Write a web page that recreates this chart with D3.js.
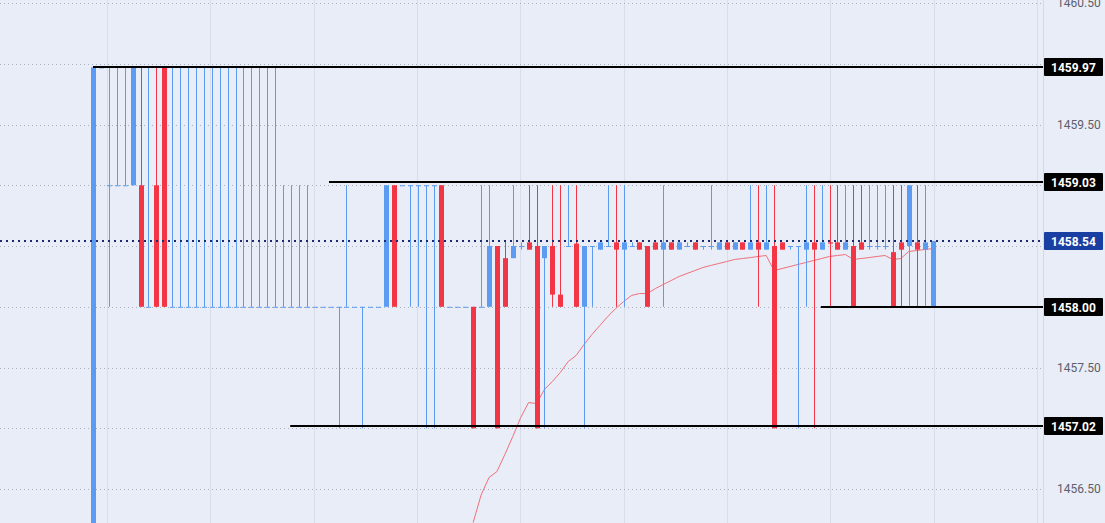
<!DOCTYPE html>
<html><head><meta charset="utf-8">
<script src="https://cdn.jsdelivr.net/npm/d3@7"></script>
<style>html,body{margin:0;padding:0;background:#e9edf8;overflow:hidden}svg{display:block}</style>
</head><body><svg id="c" width="1105" height="523"></svg>
<script>
const T=1459.97,A=1459.0,M=1458.5,B=1458.0,L=1457.0,Z=1456.0,U=1458.53,D=1458.47;
const BSQ=[D,U,D,U],RSQ=[U,U,D,D];
// candles [open, high, low, close]
const candles=[
[Z,T,Z,T],[T,T,T,T],[A,T,B,A],[A,T,A,A],[A,T,A,A],[A,T,A,T],[A,T,B,B],[B,T,B,B],[A,T,B,B],[T,T,B,B],
[B,T,B,B],[B,T,B,B],[B,T,B,B],[B,T,B,B],[B,T,B,B],[B,T,B,B],[B,T,B,B],[B,T,B,B],[B,T,B,B],[B,T,B,B],
[B,T,B,B],[B,T,B,B],[B,T,B,B],[B,T,B,B],[B,A,B,B],[B,A,B,B],[B,A,B,B],[B,A,B,B],[B,B,B,B],[B,B,B,B],
[B,B,B,B],[B,B,L,B],[B,A,B,B],[B,B,B,B],[B,B,L,B],[B,B,B,B],[B,B,B,B],[B,A,B,A],[A,A,B,B],[A,A,A,A],
[A,A,B,A],[A,A,B,A],[A,A,L,A],[A,A,L,A],[A,A,B,B],[B,B,B,B],[B,B,B,B],[B,B,B,B],[B,B,L,L],[B,A,B,B],
[B,A,B,M],[M,M,L,L],[1458.4,1458.54,B,B],[1458.4,A,1458.4,M],[M,U,D,M],[U,A,D,D],[M,A,L,L],[1458.4,M,L,M],[M,A,B,1458.1],[1458.1,A,B,B],
[M,A,M,M],[1458.52,A,B,B],[B,M,L,M],[M,M,B,M],BSQ,[M,A,M,M],[U,A,B,D],[D,A,B,U],[M,U,M,M],RSQ,
[M,M,B,B],RSQ,[D,A,B,U],RSQ,BSQ,[M,U,M,M],RSQ,[M,M,D,M],[M,A,D,M],BSQ,
RSQ,BSQ,RSQ,[D,A,D,U],[U,A,B,D],[D,A,D,U],[M,A,L,L],RSQ,[M,M,D,M],[M,M,L,M],
[D,A,B,U],[U,A,L,D],[D,A,D,U],[U,A,B,1458.52],[U,A,D,D],[D,A,D,U],[M,A,B,B],[U,A,D,D],[M,A,D,M],[M,A,D,M],
[M,A,D,M],[1458.45,A,B,B],[U,A,B,D],[M,A,B,A],[U,A,B,D],[D,A,B,U],[B,1458.54,B,1458.54]
];
const maStart=48;
const maValues=[1456.224,1456.45,1456.595,1456.644,1456.784,1456.932,1457.088,1457.212,1457.204,1457.319,1457.385,1457.459,1457.549,1457.599,1457.689,1457.772,1457.846,1457.920,1457.986,1458.043,1458.093,1458.109,1458.109,1458.150,1458.183,1458.216,1458.249,1458.274,1458.298,1458.323,1458.340,1458.356,1458.372,1458.389,1458.397,1458.405,1458.414,1458.422,1458.298,1458.315,1458.331,1458.348,1458.364,1458.381,1458.397,1458.414,1458.422,1458.430,1458.389,1458.397,1458.405,1458.414,1458.422,1458.389,1458.397,1458.455,1458.463,1458.471,1458.479];
const levels=[1459.97,1459.03,1458.00,1457.02];
const levelStart=[0,29.8,91.9,24.9];
const lastPrice=1458.54;
const tickValues=[1456.5,1457.0,1457.5,1458.0,1458.5,1459.0,1459.5,1460.0,1460.5];
const gridStart=1.77, gridStep=13.05;

const svg=d3.select("#c");
const W=1105,H=523,plotR=1043;
const y=d3.scaleLinear().domain([1456.2288,1460.5]).range([522,3]);
const x=d3.scaleLinear().domain([0,106]).range([93,932.5]);
const blue="#5b9cf2",red="#f23645";
const marks=levels.concat([lastPrice]);

const vg=d3.range(gridStart,120,gridStep).filter(v=>x(v)<plotR);
svg.append("g").selectAll("line").data(vg).join("line")
 .attr("x1",d=>Math.round(x(d))+0.5).attr("x2",d=>Math.round(x(d))+0.5).attr("y1",0).attr("y2",H)
 .attr("stroke","#d8dde9").attr("stroke-width",1);
svg.append("g").selectAll("line").data(tickValues).join("line")
 .attr("x1",0).attr("x2",plotR).attr("y1",d=>Math.round(y(d))+0.5).attr("y2",d=>Math.round(y(d))+0.5)
 .attr("stroke","#a9b0c0").attr("stroke-width",1).attr("stroke-dasharray","1,3");
svg.append("line").attr("x1",plotR+0.5).attr("x2",plotR+0.5).attr("y1",0).attr("y2",H).attr("stroke","#d3d8e3");

const ma=maValues.map((v,i)=>[maStart+i,v]);
svg.append("path").datum(ma).attr("fill","none").attr("stroke","#f0707a").attr("stroke-width",1)
 .attr("d",d3.line().x(d=>x(d[0])).y(d=>y(d[1])));

const cg=svg.append("g").selectAll("g").data(candles).join("g");
const col=d=>d[3]>=d[0]?blue:red;
cg.append("line").attr("x1",(d,i)=>Math.round(x(i))+0.5).attr("x2",(d,i)=>Math.round(x(i))+0.5)
 .attr("y1",d=>y(d[1])).attr("y2",d=>y(d[2])).attr("stroke",col).attr("stroke-width",1);
cg.append("rect").attr("x",(d,i)=>Math.round(x(i))-2).attr("width",5)
 .attr("y",d=>y(Math.max(d[0],d[3]))).attr("height",d=>Math.max(1,Math.abs(y(d[0])-y(d[3]))))
 .attr("fill",col);

svg.append("g").selectAll("line").data(levels).join("line")
 .attr("x1",(d,i)=>x(levelStart[i])).attr("x2",plotR).attr("y1",d=>Math.round(y(d))).attr("y2",d=>Math.round(y(d)))
 .attr("stroke","#000").attr("stroke-width",2);
svg.append("line").attr("x1",0).attr("x2",plotR).attr("y1",Math.round(y(lastPrice))).attr("y2",Math.round(y(lastPrice)))
 .attr("stroke","#1a2a6c").attr("stroke-width",2).attr("stroke-dasharray","2,4");

const visTicks=tickValues.filter(t=>marks.every(m=>Math.abs(y(t)-y(m))>16));
svg.append("g").selectAll("text").data(visTicks).join("text")
 .attr("x",1057).attr("y",d=>y(d)+4).attr("font-family","Roboto, 'Liberation Sans', sans-serif").attr("font-size",12)
 .attr("fill","#5d606b").text(d=>d.toFixed(2));

const lab=svg.append("g").selectAll("g").data(marks).join("g");
lab.append("rect").attr("x",plotR+1).attr("width",59).attr("y",d=>Math.round(y(d))-9).attr("height",18).attr("rx",1)
 .attr("fill",(d,i)=>i===levels.length?"#1a3fa3":"#000");
lab.append("text").attr("x",1051).attr("y",d=>Math.round(y(d))+4.5).attr("font-family","Roboto, 'Liberation Sans', sans-serif")
 .attr("font-size",12).attr("font-weight","bold").attr("fill","#fff").text(d=>d.toFixed(2));
</script></body></html>
